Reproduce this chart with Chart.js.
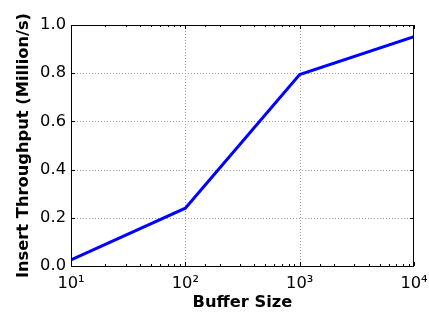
<!DOCTYPE html>
<html>
<head>
<meta charset="utf-8">
<script src="https://cdn.jsdelivr.net/npm/chart.js@4/dist/chart.umd.min.js"></script>
<style>
html,body{margin:0;padding:0;background:#fff;}
#wrap{width:429px;height:313px;}
</style>
</head>
<body>
<div id="wrap"><canvas id="c" width="429" height="313"></canvas></div>
<script>
const bufferSizes = [10, 100, 1000, 10000];
const throughput = [0.025, 0.24, 0.794, 0.952];
const yTickValues = [0, 0.2, 0.4, 0.6, 0.8, 1.0];
const xMajorTicks = [10, 100, 1000, 10000];
const xTickLabels = ['10\u00B9', '10\u00B2', '10\u00B3', '10\u2074'];
const xTitle = 'Buffer Size';
const yTitle = 'Insert Throughput (Million/s)';

const FONT = "'DejaVu Sans', sans-serif";
const FS = 16.3;

function isMajor(v){ return xMajorTicks.some(m => Math.abs(v - m) < 1e-6); }

const framePlugin = {
  id: 'frame',
  beforeDatasetsDraw(chart){
    const {ctx, chartArea:a, scales:{x, y}} = chart;
    ctx.save();
    ctx.strokeStyle = '#9a9a9a';
    ctx.lineWidth = 1;
    ctx.setLineDash([1, 2]);
    xMajorTicks.forEach(v => {
      if (v === 10 || v === 10000) return;
      const px = Math.round(x.getPixelForValue(v)) + 0.5;
      ctx.beginPath(); ctx.moveTo(px, a.top); ctx.lineTo(px, a.bottom); ctx.stroke();
    });
    yTickValues.forEach(v => {
      if (v === 0 || v === 1) return;
      const py = Math.round(y.getPixelForValue(v)) + 0.5;
      ctx.beginPath(); ctx.moveTo(a.left, py); ctx.lineTo(a.right, py); ctx.stroke();
    });
    ctx.restore();
  },
  afterDatasetsDraw(chart){
    const {ctx, chartArea:a, scales:{x, y}} = chart;
    ctx.save();
    ctx.strokeStyle = '#000';
    ctx.lineWidth = 1;
    ctx.setLineDash([]);
    x.ticks.forEach(t => {
      const v = t.value;
      if (v < 10 || v > 10000) return;
      const len = isMajor(v) ? 4 : 2;
      const px = Math.round(x.getPixelForValue(v)) + 0.5;
      ctx.beginPath();
      ctx.moveTo(px, a.bottom); ctx.lineTo(px, a.bottom - len);
      ctx.moveTo(px, a.top); ctx.lineTo(px, a.top + len);
      ctx.stroke();
    });
    yTickValues.forEach(v => {
      const py = Math.round(y.getPixelForValue(v)) + 0.5;
      ctx.beginPath();
      ctx.moveTo(a.left, py); ctx.lineTo(a.left + 4, py);
      ctx.moveTo(a.right, py); ctx.lineTo(a.right - 4, py);
      ctx.stroke();
    });
    ctx.strokeRect(Math.round(a.left) + 0.5, Math.round(a.top) + 0.5,
                   Math.round(a.right - a.left) - 1, Math.round(a.bottom - a.top));
    ctx.restore();
  }
};

new Chart(document.getElementById('c'), {
  type: 'line',
  data: {
    datasets: [{
      data: bufferSizes.map((b, i) => ({x: b, y: throughput[i]})),
      borderColor: '#0000ff',
      borderWidth: 3,
      pointRadius: 0,
      tension: 0,
      fill: false
    }]
  },
  options: {
    responsive: false,
    animation: false,
    devicePixelRatio: 1,
    layout: {padding: {top: 25, right: 15, left: 0, bottom: 0}},
    plugins: {legend: {display: false}, tooltip: {enabled: false}},
    scales: {
      x: {
        type: 'logarithmic',
        min: 10, max: 10000,
        grid: {display: false, drawTicks: false},
        border: {display: false},
        afterFit(s){ s.height = 47; s.paddingLeft = 0; s.paddingRight = 0; },
        ticks: {
          autoSkip: false,
          maxRotation: 0,
          padding: 8,
          color: '#000',
          font: {family: FONT, size: FS},
          callback(v){
            const i = xMajorTicks.findIndex(m => Math.abs(v - m) < 1e-6);
            return i >= 0 ? xTickLabels[i] : '';
          }
        },
        title: {
          display: true, text: xTitle, color: '#000',
          font: {family: FONT, size: FS, weight: 'bold'},
          padding: {top: 0, bottom: 0}
        }
      },
      y: {
        type: 'linear',
        min: 0, max: 1,
        afterBuildTicks(s){ s.ticks = yTickValues.map(v => ({value: v})); },
        afterFit(s){ s.width = 71; s.paddingTop = 0; s.paddingBottom = 0; },
        grid: {display: false, drawTicks: false},
        border: {display: false},
        ticks: {
          padding: 5,
          color: '#000',
          font: {family: FONT, size: FS},
          callback(v){ return v.toFixed(1); }
        },
        title: {
          display: true, text: yTitle, color: '#000',
          font: {family: FONT, size: FS, weight: 'bold'},
          padding: {top: 14, bottom: 0}
        }
      }
    }
  },
  plugins: [framePlugin]
});
</script>
</body>
</html>
